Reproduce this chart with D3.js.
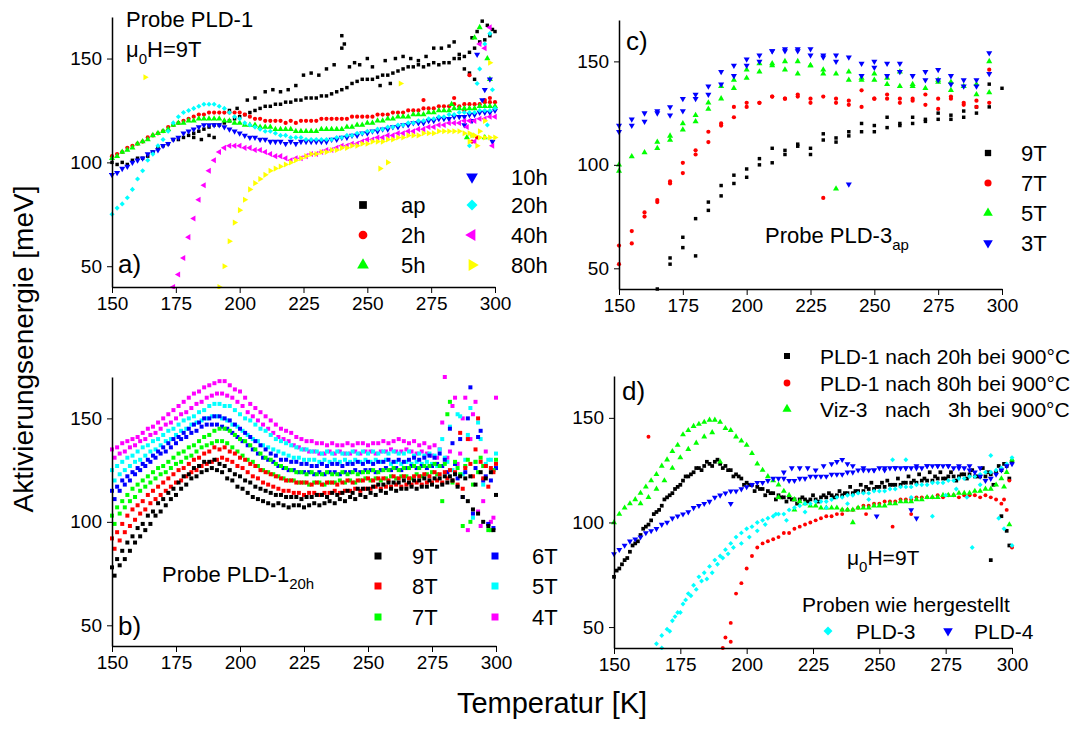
<!DOCTYPE html>
<html>
<head>
<meta charset="utf-8">
<script src="https://cdn.jsdelivr.net/npm/d3@7"></script>
<style>
body { margin: 0; background: #fff; }
svg { display: block; font-family: "Liberation Sans", Arial, sans-serif; }
text { white-space: pre; fill: #000; }
</style>
</head>
<body>
<svg id="chart" width="1071" height="741"></svg>
<script>
// ---- axis ticks ----
var xTicks = [150, 175, 200, 225, 250, 275, 300];
var xMinor = [162.5, 187.5, 212.5, 237.5, 262.5, 287.5];
var yTicks = [50, 100, 150];
var yMinor = [75, 125];

// ---- panel a: Probe PLD-1, 9T, anneal times (T from start, step 2 K) ----
var aAp  = [100,99,100,99,101,102,102,103,105,107, 108,109,111,111,112,113,114,115,116,117, 118,118,119,120,121,122,123,124,125,126, 127,127,128,128,129,129,130,130,131,131, 131,132,132,133,134,135,136,138,139,140, 140,140,141,142,142,143,144,145,146,146, 147,146,147,148,147,148,148,150,150,151, 153,155,158,159,161,163];
var aApExtra = [[182,112],[185,111],[188,113],[190,112],[196,125],[199,126],[203,130],[206,131],[210,134],[213,135],[216,134],[219,135],[222,137],[225,142],[228,143],[231,142],[234,145],[237,147],[240,155],[240,161],[241,157],[243,146],[245,148],[247,147],[250,150],[252,146],[255,137],[257,149],[259,138],[261,150],[264,151],[267,150],[270,149],[273,151],[276,155],[279,155],[282,156],[284,158],[286,152],[288,145],[290,143],[291,160],[292,140],[293,163],[295,168],[297,166],[299,164]];
var a2h  = [103,104,105,107,108,109,110,112,113,114, 115,117,118,119,120,121,122,123,123,124, 124,124,124,124,124,124,123,122,121,121, 120,120,120,120,119,120,119,120,120,120, 120,121,121,121,121,121,121,122,122,122, 122,122,123,123,123,124,124,124,125,125, 125,126,126,126,127,127,127,128,127,128, 128,128,128,129,129,129];
var a2hExtra = [[291,110],[293,112],[296,130],[298,131],[290,142],[288,125],[284,131],[272,130]];
var a5h  = [102,103,105,106,107,109,110,111,113,114, 115,116,118,119,119,120,120,121,121,121, 121,121,120,120,119,119,118,118,118,117, 117,117,116,116,116,116,115,115,115,115, 115,116,116,116,116,116,117,117,118,118, 119,119,120,120,121,121,122,122,122,123, 123,123,124,124,125,125,125,126,126,126, 126,126,127,127,127,127];
var a5hExtra = [[289,112],[292,160],[294,165],[297,150],[298,140],[296,112],[283,128]];
var a10h = [94,95,97,98,100,101,102,104,105,106, 108,109,111,112,114,115,116,117,118,118, 118,118,117,116,115,114,113,112,112,111, 111,110,110,110,109,110,109,110,110,110, 110,110,110,111,111,112,112,113,113,114, 114,115,115,116,116,117,117,118,118,119, 119,119,120,120,121,121,121,122,122,122, 123,123,124,124,124,125];
var a10hExtra = [[291,120],[293,152],[295,130],[296,135],[298,140],[299,110],[288,118]];
var a20h = [75,78,80,83,87,92,96,101,104,108, 111,115,119,122,124,125,126,127,128,128, 128,127,126,124,122,121,119,118,117,116, 115,115,114,113,113,112,112,112,111,111, 111,111,111,111,112,112,113,113,114,114, 115,115,116,116,117,117,118,118,119,119, 120,120,121,121,122,122,123,123,124,124, 124,124,125,125,125,126];
var a20hExtra = [[291,113],[293,138],[294,145],[296,157],[298,162],[299,135],[290,108],[297,118]];
var a40h = [40,46,54,64,73,82,89,96,101,105, 107,108,108,108,107,107,106,106,105,104, 103,103,102,101,102,102,103,104,104,105, 106,106,107,108,108,109,109,110,111,111, 112,112,113,113,114,114,115,115,116,116, 117,117,118,118,119,119,119,120,120,120, 121,121,122,122];
var a40hExtra = [[292,110],[294,157],[296,155],[298,165],[299,108],[289,117]];
var a80h = [40,50,62,71,77,82,87,90,92,94, 96,97,98,99,100,101,102,103,104,104, 105,105,106,106,107,107,108,108,109,109, 110,110,110,111,111,112,112,113,113,113, 114,114,114,115,115,115,115,115,114,114, 113,112,112,112,112];
var a80hExtra = [[163,141],[255,97],[258,100],[263,138],[290,110],[293,108],[296,120],[298,148],[294,115],[291,113]];

// ---- panel b: Probe PLD-1 20h, fields 9T..4T (even K track and odd K track) ----
var b9Even = [78,82,86,90,93,97,99,103,105,109, 111,114,116,119,122,123,126,127,129,129, 130,128,127,125,123,122,120,119,117,116, 115,114,113,113,112,112,112,111,112,112, 113,113,112,114,113,114,115,114,116,116, 116,117,118,118,119,119,119,120,119,120, 120,121,120,121,121,122,122,123,122,121, 122,118,124,121,124,113];
var b9Odd  = [74,79,82,86,90,93,96,99,103,105, 108,111,113,116,118,121,122,124,125,126, 125,124,121,120,117,116,114,112,111,110, 109,108,109,108,107,108,108,107,108,109, 108,109,110,109,111,110,112,111,113,112, 114,113,115,114,116,115,116,116,117,116, 117,117,118,117,118,119,120,117,112,110, 106,104,100,98,96];
var b8Even = [92,95,99,103,106,108,110,113,115,117, 119,121,123,125,126,128,130,131,133,134, 136,135,136,134,133,131,130,128,127,125, 124,123,122,121,120,120,119,119,119,118, 119,118,119,119,118,119,120,119,120,120, 121,120,121,121,120,122,121,122,121,122, 122,123,122,124,123,124,125,124,143,126, 128,135,129,127,126,128];
var b8Odd  = [87,91,95,98,101,104,106,109,111,113, 115,117,119,120,122,124,125,127,128,129, 130,131,130,129,127,126,124,122,121,119, 118,117,116,115,115,114,114,113,114,114, 113,114,114,115,114,115,115,116,115,116, 116,117,116,117,117,118,117,118,118,119, 118,119,119,120,119,121,120,118,116,140, 122,150,121,117,124];
var b7Even = [103,107,110,113,116,118,120,122,124,126, 127,129,131,133,134,136,137,139,141,142, 144,145,145,144,142,140,139,137,135,133, 131,130,128,127,126,125,124,124,123,124, 123,123,124,123,123,124,123,124,123,124, 124,125,124,125,125,126,125,126,126,127, 126,127,127,128,127,128,158,129,123,127, 100,129,131,127,96,130];
var b7Odd  = [99,104,107,110,112,115,117,119,121,123, 124,126,128,129,131,132,134,136,137,138, 139,139,138,136,134,132,130,129,127,125, 124,123,122,121,120,120,119,119,118,119, 119,118,119,119,120,119,120,119,120,121, 120,121,120,121,122,121,122,122,121,123, 122,123,124,123,110,152,119,126,98,130, 118,124,127,96,125];
var b6Even = [115,117,120,122,124,126,128,130,132,134, 136,138,140,141,143,145,147,148,150,150, 151,151,150,149,147,145,143,141,139,137, 135,133,132,130,130,129,129,128,128,127, 127,128,127,128,128,127,128,128,129,128, 129,128,129,129,130,129,130,129,130,131, 130,131,132,131,133,130,145,128,140,124, 165,126,144,122,120,126];
var b6Odd  = [111,115,118,120,123,125,127,129,131,133, 134,136,138,140,141,143,144,146,147,147, 147,146,145,143,141,139,137,135,133,131, 130,129,127,126,125,125,124,124,124,123, 124,123,124,124,123,124,124,125,124,125, 125,124,125,126,125,126,125,126,127,126, 127,126,127,128,127,124,138,121,112,150, 104,141,120,99,97];
var b5Even = [125,127,129,131,132,134,136,137,139,140, 142,144,145,147,149,150,151,153,154,156, 157,157,156,156,154,152,150,149,147,145, 144,142,140,139,138,137,136,135,135,134, 134,133,134,133,134,133,133,134,133,134, 133,134,133,134,133,134,133,133,134,132, 133,132,133,132,135,131,146,128,151,130, 155,129,140,128,130,133];
var b5Odd  = [120,123,125,127,129,130,132,134,135,137, 139,140,142,144,145,147,148,149,150,151, 151,150,149,147,146,144,142,140,139,137, 136,135,134,133,132,131,131,130,130,130, 129,130,129,130,129,130,129,130,129,130, 129,130,129,130,128,129,128,129,128,129, 128,129,128,127,140,129,125,152,123,142, 102,148,118,130,125];
var b4Even = [135,136,138,139,140,141,143,145,146,148, 150,152,154,156,158,160,162,163,165,166, 167,168,168,166,164,163,160,157,155,153, 151,149,147,145,144,143,141,140,139,139, 138,138,137,138,137,137,138,137,138,138, 137,138,138,139,138,139,140,139,138,139, 137,138,136,137,135,170,134,160,133,160, 140,158,98,134,100,160];
var b4Odd  = [131,133,134,136,137,139,140,142,143,145, 147,148,150,152,153,155,157,158,160,161, 162,162,161,160,158,156,153,151,149,147, 145,143,141,140,139,137,136,135,134,134, 133,133,134,133,134,133,133,134,133,134, 134,133,134,134,135,134,134,135,134,133, 134,133,132,131,148,131,156,128,150,96, 152,105,110,99,102];

// ---- panel c: Probe PLD-3 ap, two scans per temperature ----
var cTemps = [150,155,160,165,170,175,180,185,190,195,200,205,210,215,220,225,230,235,240,245,250,255,260,265,270,275,280,285,290,295];
var c9A = [null,null,null,40,55,65,74,82,90,95,98,103,108,107,110,108,115,113,116,120,119,123,120,123,122,125,124,126,128,139];
var c9B = [null,null,null,null,52,60,56,78,85,91,94,100,101,105,109,105,112,111,114,116,116,118,119,120,121,122,122,123,125,128];
var c9Extra = [[300,137]];
var c7A = [61,68,77,83,91,101,107,116,120,128,130,130,133,132,134,132,133,132,131,136,132,134,132,132,134,132,133,130,131,146];
var c7B = [52,62,75,82,92,96,105,111,119,123,128,130,133,132,133,130,null,130,129,128,132,132,130,131,129,127,132,129,128,130];
var c7Extra = [[230,84]];
var c5A = [100,104,106,111,114,120,124,130,138,141,146,149,149,150,150,148,146,144,145,142,144,142,145,139,137,141,140,138,139,150];
var c5B = [97,null,null,108,112,117,121,127,132,137,142,145,148,146,144,148,144,null,141,141,141,139,138,138,null,140,136,null,134,135];
var c5Extra = [[235,88.5]];
var c3A = [119,122,125,126,128,132,134,138,145,148,151,153,155,156,156,156,153,153,152,149,150,149,149,143,145,146,143,141,141,154];
var c3B = [116,119,121,125,124,126,132,134,139,143,148,150,155,155,155,153,152,150,null,143,147,143,145,null,141,141,139,138,138,144];
var c3Extra = [[240,90.6]];

// ---- panel d: comparison at 9T ----
var d20hEven = [74,78,82,86,90,94,98,101,105,108, 112,114,117,120,122,124,126,127,128,129, 128,127,125,123,121,119,118,117,116,115, 114,113,112,112,111,111,111,111,111,112, 112,113,113,113,114,114,115,115,116,116, 117,117,118,118,118,119,119,119,120,120, 120,121,121,122,122,122,123,123,122,122, 122,123,124,125,127,129];
var d20hOdd  = [77,80,83,89,91,97,99,104,106,111, 113,116,118,122,123,126,125,129,127,130, 126,125,122,122,118,118,115,116,113,114, 111,112,110,111,109,112,110,113,110,113, 114,112,115,114,117,115,118,117,119,117, 119,120,118,121,119,122,120,123,121,124, 122,124,121,124,120,123,121,125,122,126, 124,118,127,128,121];
var d20hExtra = [[292,82],[296,103],[298,96],[299,89]];
var d80h = [45,52,66,71,78,84,88,90,91,92, 93,95,95,97,98,99,100,101,102,103, 103,104,104,106,106,107,108,108,109,109, 110,110,110,111,111,111,112,112,112,112, 113,112,113,113,112,113,113,113,112,113, 112,111,109,106,88];
var d80hExtra = [[191,40],[194,43],[163,141],[255,98],[262,104],[299,120],[297,111],[245,104],[236,106]];
var dViz3h = [100,104,107,109,111,114,117,120,123,127, 130,134,137,142,144,146,147,148,149,149, 148,145,144,141,139,137,133,128,125,122, 120,118,115,113,111,110,109,108,108,107, 107,107,107,106,106,106,107,107,107,108, 108,108,109,109,110,110,110,111,111,112, 112,112,113,113,113,114,114,114,115,115, 116,116,118,121,124,130];
var dViz3hExtra = [[160,109],[163,112],[166,116],[169,120],[172,126],[175,131],[178,135],[181,138],[184,141],[187,143],[190,129],[212,112],[218,106],[240,100],[299,99],[297,117]];
var dPld3 = [42,46,49,53,57,61,66,70,74,76, 79,82,84,87,90,93,95,97,98,100, 101,102,103,104,104,106,107,108,109,109, 110,110,110,111,112,112,113,113,114,114, 114,115,115,115,116,116,117,117,117,118, 118,118,119,119,119,120,120,121,121,122, 122,123,124,124,125,126,128,131];
var dPld3Extra = [[168,40],[171,48],[173,55],[175,57],[177,63],[179,65],[181,68],[183,72],[185,73],[187,76],[189,80],[191,83],[193,85],[195,88],[198,90],[201,93],[204,96],[207,99],[211,104],[215,101],[222,105],[230,107],[238,109],[246,111],[255,130],[260,130],[262,112],[270,103],[275,113],[283,112],[285,88],[292,132],[295,102],[297,97],[300,89],[288,118],[279,116]];
var dPld4 = [85,87,89,91,92,93,95,96,97,99, 100,102,103,104,105,107,108,109,110,112, 113,114,115,115,116,117,118,119,119,120, 121,121,121,120,120,121,121,122,122,122, 122,123,123,123,124,124,125,125,125,125, 126,126,126,126,126,126,126,126,126,127, 127,127,127,127,126,126,126,125,124,122, 120,121,123,125,127,128];
var dPld4Extra = [[214,124],[217,126],[220,126],[223,126],[226,125],[229,127],[232,128],[234,129],[236,130],[238,128],[240,127],[244,126],[248,125],[252,125],[256,126],[260,126],[264,127],[268,127],[272,127],[276,127],[280,127],[284,127],[288,126],[194,109],[262,106],[264,102],[249,103]];

// ---- drawing ----
var FONT = '"Liberation Sans", Arial, sans-serif';
var svg = d3.select("#chart");
var ROT = { square: 0, circle: 0, up: 0, down: 180, left: -90, right: 90, diamond: 45 };
var TYPE = { square: d3.symbolSquare, circle: d3.symbolCircle, up: d3.symbolTriangle,
             down: d3.symbolTriangle, left: d3.symbolTriangle, right: d3.symbolTriangle, diamond: d3.symbolSquare };

function onGrid(start, step, vals) {
    return vals.map(function (v, i) { return [start + i * step, v]; });
}
function onList(xs, vals) {
    return vals.map(function (v, i) { return [xs[i], v]; });
}

function makePanel(p) {
    var x = d3.scaleLinear().domain([150, 300]).range([p.left, p.right]);
    var y = d3.scaleLinear().domain([40, 170]).range([p.bottom, p.top]);
    var g = svg.append('g');
    var clipId = 'clip-' + p.id;
    svg.append('clipPath').attr('id', clipId).append('rect')
        .attr('x', p.left - 3).attr('y', p.top - 3)
        .attr('width', p.right - p.left + 8).attr('height', p.bottom - p.top + 5);
    var plot = g.append('g').attr('clip-path', 'url(#' + clipId + ')');

    var ax = g.append('g').attr('transform', 'translate(0,' + p.bottom + ')');
    ax.call(d3.axisBottom(x).tickValues(xMinor).tickSize(4).tickFormat(''));
    ax.call(d3.axisBottom(x).tickValues(xTicks).tickSize(6).tickPadding(4).tickSizeOuter(0));
    var ay = g.append('g').attr('transform', 'translate(' + p.left + ',0)');
    ay.call(d3.axisLeft(y).tickValues(yMinor).tickSize(3).tickFormat(''));
    ay.call(d3.axisLeft(y).tickValues(yTicks).tickSize(5).tickPadding(5).tickSizeOuter(0));
    g.selectAll('.domain').attr('stroke-width', 1.5);
    g.selectAll('.tick line').attr('stroke-width', 1);
    g.selectAll('.tick text').attr('font-size', 19).attr('font-family', FONT);
    return { x: x, y: y, plot: plot, g: g };
}

function drawPoints(panel, pts, shape, color, size) {
    var path = d3.symbol().type(TYPE[shape]).size(size)();
    panel.plot.append('g').selectAll('path')
        .data(pts.filter(function (d) { return d[1] != null; }))
        .join('path')
        .attr('d', path)
        .attr('transform', function (d) {
            return 'translate(' + panel.x(d[0]) + ',' + panel.y(d[1]) + ') rotate(' + ROT[shape] + ')';
        })
        .attr('fill', color);
}

function marker(sx, sy, shape, color, size) {
    svg.append('path')
        .attr('d', d3.symbol().type(TYPE[shape]).size(size)())
        .attr('transform', 'translate(' + sx + ',' + sy + ') rotate(' + ROT[shape] + ')')
        .attr('fill', color);
}

function label(x, y, txt, fs) {
    return svg.append('text').attr('x', x).attr('y', y).attr('font-family', FONT)
        .attr('xml:space', 'preserve').attr('font-size', fs).text(txt);
}

function subLabel(x, y, main, sub, rest, fs, subFs) {
    var t = svg.append('text').attr('x', x).attr('y', y).attr('font-size', fs)
        .attr('font-family', FONT).attr('xml:space', 'preserve');
    t.append('tspan').text(main);
    t.append('tspan').attr('font-size', subFs).attr('dy', 7).text(sub);
    if (rest) t.append('tspan').attr('dy', -7).text(rest);
    return t;
}

// panel a
var pa = makePanel({ id: 'a', left: 112, right: 495, top: 17, bottom: 287 });
drawPoints(pa, onGrid(150, 2, aAp).concat(aApExtra), 'square', '#000000', 12);
drawPoints(pa, onGrid(150, 2, a2h).concat(a2hExtra), 'circle', '#ff0000', 14);
drawPoints(pa, onGrid(150, 2, a5h).concat(a5hExtra), 'up', '#00ff00', 16);
drawPoints(pa, onGrid(150, 2, a10h).concat(a10hExtra), 'down', '#0000ff', 16);
drawPoints(pa, onGrid(150, 2, a20h).concat(a20hExtra), 'diamond', '#00ffff', 13);
drawPoints(pa, onGrid(174, 2, a40h).concat(a40hExtra), 'left', '#ff00ff', 16);
drawPoints(pa, onGrid(192, 2, a80h).concat(a80hExtra), 'right', '#ffff00', 16);

label(126, 27, 'Probe PLD-1', 22);
subLabel(126, 57, 'μ', '0', 'H=9T', 22, 15);
label(118, 273, 'a)', 26);
var aRows = [177, 205, 235, 265];
[['ap', 'square', '#000000'], ['2h', 'circle', '#ff0000'], ['5h', 'up', '#00ff00']].forEach(function (e, i) {
    marker(363, aRows[i + 1], e[1], e[2], 60);
    label(401, aRows[i + 1] + 8, e[0], 22);
});
[['10h', 'down', '#0000ff'], ['20h', 'diamond', '#00ffff'], ['40h', 'left', '#ff00ff'], ['80h', 'right', '#ffff00']].forEach(function (e, i) {
    marker(472, aRows[i], e[1], e[2], 60);
    label(511, aRows[i] + 8, e[0], 22);
});

// panel b
var pb = makePanel({ id: 'b', left: 112, right: 496, top: 377, bottom: 646 });
[[b4Even, b4Odd, '#ff00ff'], [b5Even, b5Odd, '#00ffff'], [b6Even, b6Odd, '#0000ff'],
 [b7Even, b7Odd, '#00ff00'], [b8Even, b8Odd, '#ff0000'], [b9Even, b9Odd, '#000000']].forEach(function (s) {
    drawPoints(pb, onGrid(150, 2, s[0]).concat(onGrid(151, 2, s[1])), 'square', s[2], 16);
});
label(118, 635, 'b)', 26);
subLabel(162, 582, 'Probe PLD-1', '20h', null, 22, 15);
var bRows = [556, 586, 617];
[['9T', '#000000'], ['8T', '#ff0000'], ['7T', '#00ff00']].forEach(function (e, i) {
    marker(378, bRows[i], 'square', e[1], 49);
    label(412, bRows[i] + 8, e[0], 22);
});
[['6T', '#0000ff'], ['5T', '#00ffff'], ['4T', '#ff00ff']].forEach(function (e, i) {
    marker(495, bRows[i], 'square', e[1], 49);
    label(532, bRows[i] + 8, e[0], 22);
});

// panel c
var pc = makePanel({ id: 'c', left: 619, right: 1002, top: 20, bottom: 289 });
drawPoints(pc, onList(cTemps, c9A).concat(onList(cTemps, c9B), c9Extra), 'square', '#000000', 12);
drawPoints(pc, onList(cTemps, c7A).concat(onList(cTemps, c7B), c7Extra), 'circle', '#ff0000', 14);
drawPoints(pc, onList(cTemps, c5A).concat(onList(cTemps, c5B), c5Extra), 'up', '#00ff00', 16);
drawPoints(pc, onList(cTemps, c3A).concat(onList(cTemps, c3B), c3Extra), 'down', '#0000ff', 16);
label(626, 50, 'c)', 26);
subLabel(765, 243, 'Probe PLD-3', 'ap', null, 22, 15);
var cRows = [153, 183, 213, 243];
[['9T', 'square', '#000000'], ['7T', 'circle', '#ff0000'], ['5T', 'up', '#00ff00'], ['3T', 'down', '#0000ff']].forEach(function (e, i) {
    marker(988, cRows[i], e[1], e[2], 40);
    label(1021, cRows[i] + 8, e[0], 22);
});

// panel d
var pd = makePanel({ id: 'd', left: 614, right: 1012, top: 376, bottom: 648 });
drawPoints(pd, onGrid(150, 2, d20hEven).concat(onGrid(151, 2, d20hOdd), d20hExtra), 'square', '#000000', 14);
drawPoints(pd, onGrid(192, 2, d80h).concat(d80hExtra), 'circle', '#ff0000', 12);
drawPoints(pd, onGrid(150, 2, dViz3h).concat(dViz3hExtra), 'up', '#00ff00', 15);
drawPoints(pd, onGrid(166, 2, dPld3).concat(dPld3Extra), 'diamond', '#00ffff', 12);
drawPoints(pd, onGrid(150, 2, dPld4).concat(dPld4Extra), 'down', '#0000ff', 15);
label(622, 400, 'd)', 26);
var dRows = [356, 383, 409];
[['PLD-1 nach 20h bei 900°C', 'square', '#000000'],
 ['PLD-1 nach 80h bei 900°C', 'circle', '#ff0000'],
 ['Viz-3   nach   3h bei 900°C', 'up', '#00ff00']].forEach(function (e, i) {
    marker(787, dRows[i], e[1], e[2], 36);
    label(820, dRows[i] + 8, e[0], 21);
});
subLabel(847, 565, 'μ', '0', 'H=9T', 21, 15);
label(802, 612, 'Proben wie hergestellt', 21);
marker(828, 631, 'diamond', '#00ffff', 40);
label(856, 639, 'PLD-3', 21);
marker(948, 631, 'down', '#0000ff', 40);
label(974, 639, 'PLD-4', 21);

// axis titles
svg.append('text').attr('transform', 'translate(33,349) rotate(-90)').attr('font-family', FONT)
    .attr('text-anchor', 'middle').attr('font-size', 28).text('Aktivierungsenergie [meV]');
svg.append('text').attr('x', 552).attr('y', 713).attr('font-family', FONT)
    .attr('text-anchor', 'middle').attr('font-size', 29).text('Temperatur [K]');
</script>
</body>
</html>
